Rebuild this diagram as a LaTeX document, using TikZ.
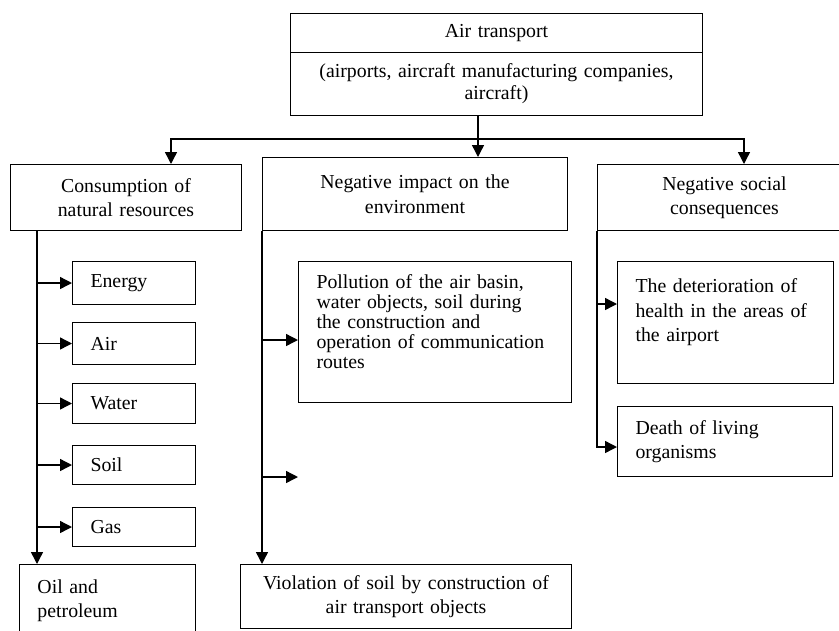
\documentclass[tikz,border=0pt]{standalone}
\usepackage{fontspec}
\setmainfont{Liberation Serif}
\usepackage{tikz}
\usetikzlibrary{arrows.meta,calc}

\begin{document}
\begin{tikzpicture}[
  x=1pt,y=-1pt,
  box/.style={draw,line width=1pt,rectangle,anchor=north west,inner ysep=0pt,
    font=\fontsize{19.8}{24.5}\selectfont},
  head/.style={box,inner xsep=0pt,align=center},
  leaf/.style={box,inner xsep=18pt,align=left},
  wire/.style={line width=1.4pt},
  arr/.style={wire,-{Triangle[length=12pt,width=12pt]}}
]
  \useasboundingbox (0,0) rectangle (839,630);
  \clip (0,0) rectangle (839,630);

  % top block
  \node[head,text width=412pt,minimum height=39pt] (airhead) at (290,13) {Air transport};
  \node[head,text width=412pt,minimum height=63pt,
    font=\fontsize{19.8}{22}\selectfont] (airsub) at (290,52)
    {(airports, aircraft manufacturing companies,\\ aircraft)};

  % three groups
  \node[head,text width=231pt,minimum height=66pt] (cons)   at (10,164)  {Consumption of\\ natural resources};
  \node[head,text width=305pt,minimum height=73pt] (impact) at (262,157) {Negative impact on the\\ environment};
  \node[head,text width=254pt,minimum height=66pt] (social) at (597,164) {Negative social\\ consequences};

  % resources
  \node[leaf,text width=87pt,minimum height=43pt] (energy) at (72,261) {Energy};
  \node[leaf,text width=87pt,minimum height=42pt] (air)    at (72,322) {Air};
  \node[leaf,text width=87pt,minimum height=40pt] (water)  at (72,383) {Water};
  \node[leaf,text width=87pt,minimum height=39pt] (soil)   at (72,445) {Soil};
  \node[leaf,text width=87pt,minimum height=39pt] (gas)    at (72,507) {Gas};
  \node[leaf,text width=140pt,minimum height=72pt] (oil)   at (19,564) {Oil and\\ petroleum};

  % environment
  \node[leaf,text width=237pt,minimum height=141pt,
    font=\fontsize{19.8}{20}\selectfont] (pollu) at (298,261)
    {Pollution of the air basin,\\ water objects, soil during\\ the construction and\\ operation of communication\\ routes\\ \mbox{}};
  \node[head,text width=331pt,minimum height=64pt] (viol) at (240,564)
    {Violation of soil by construction of\\ air transport objects};

  % social
  \node[leaf,text width=180pt,minimum height=122pt] (health) at (617,261)
    {The deterioration of\\ health in the areas of\\ the airport\\ \mbox{}};
  \node[leaf,text width=179pt,minimum height=70pt] (death) at (617,406)
    {Death of living\\ organisms};

  % connectors
  \coordinate (hub)  at (478,139);
  \coordinate (busL) at (171,139);
  \coordinate (busR) at (744,139);
  \draw[arr] (airsub.south -| hub) -- (hub |- impact.north);
  \draw[arr] (hub) -- (busL) -- (busL |- cons.north);
  \draw[arr] (hub) -- (busR) -- (busR |- social.north);

  \coordinate (trunkL) at (37,230);
  \draw[arr] (trunkL) -- (oil.north -| trunkL);
  \foreach \n in {energy,air,water,soil,gas}
    \draw[arr] (\n.west -| trunkL) -- (\n.west);

  \coordinate (spare) at (298,477);
  \draw[arr] (impact.south west) -- (impact.south west |- viol.north);
  \draw[arr] (impact.south west |- 0,340) -- (pollu.west |- 0,340);
  \draw[arr] (impact.south west |- spare) -- (spare);

  \draw[arr] (social.south west) |- (death.west |- 0,447);
  \draw[arr] (social.south west |- 0,304) -- (health.west |- 0,304);
\end{tikzpicture}
\end{document}
